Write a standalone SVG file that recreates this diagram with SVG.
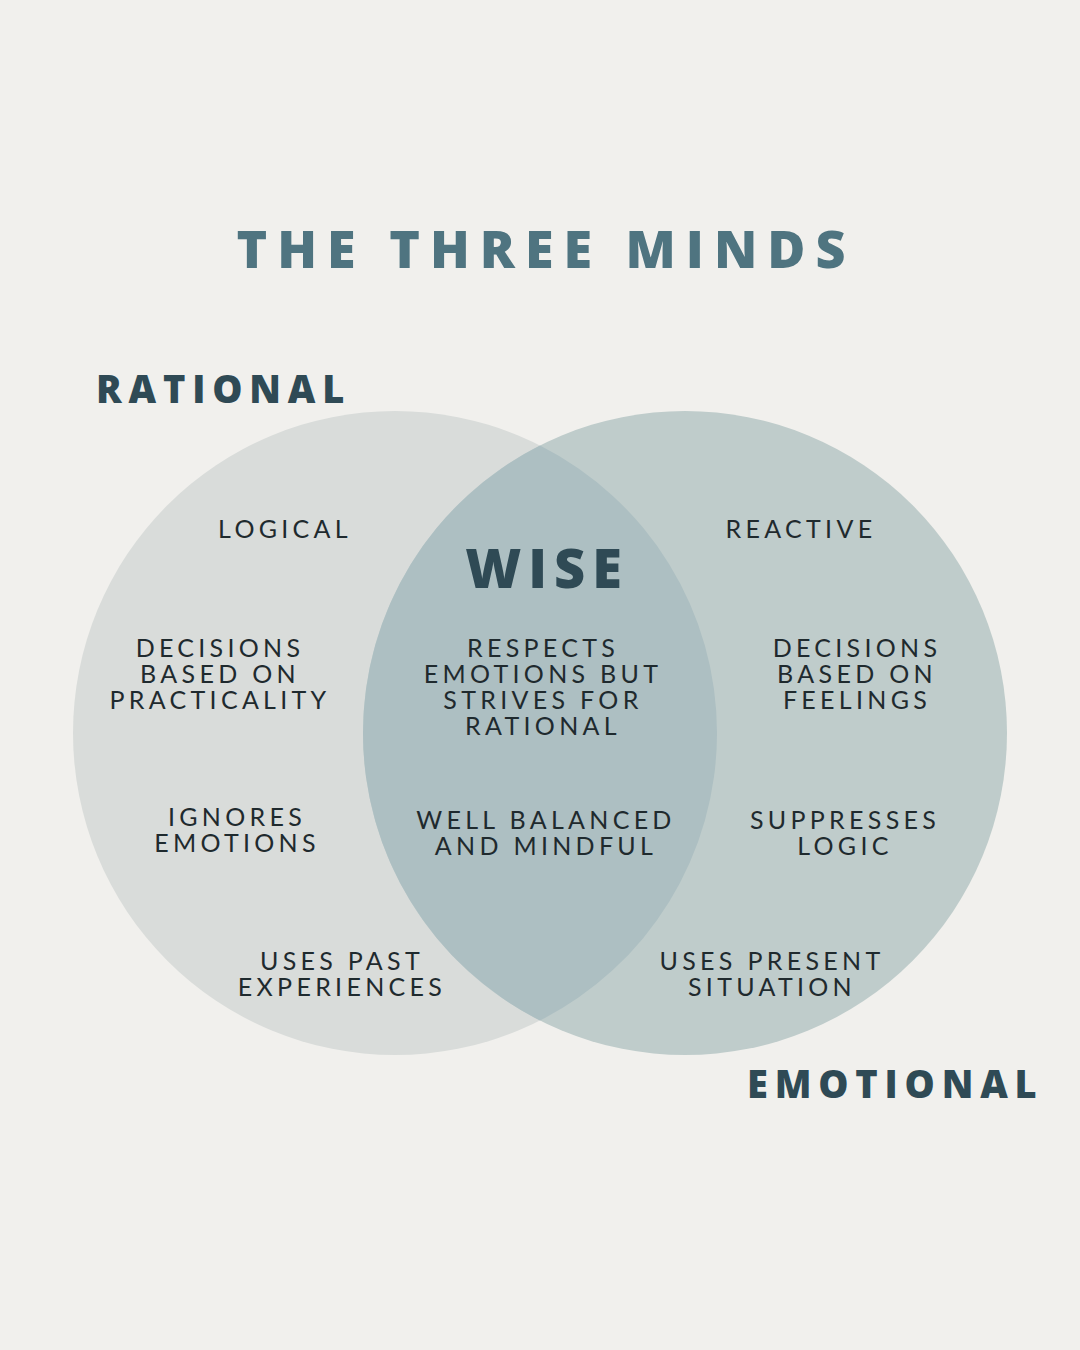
<svg xmlns="http://www.w3.org/2000/svg" width="1080" height="1350" viewBox="0 0 1080 1350">
<style>
.title{font-family:"Open Sans","Liberation Sans",sans-serif;font-weight:800;fill:#4f7480;font-size:52px;letter-spacing:10px;text-anchor:middle}
.head{font-family:"Open Sans","Liberation Sans",sans-serif;font-weight:800;fill:#2f4a55;font-size:38px;letter-spacing:6.8px}
.wise{font-family:"Open Sans","Liberation Sans",sans-serif;font-weight:800;fill:#2f4a55;font-size:54px;letter-spacing:7px;text-anchor:middle}
.body{font-family:"Lato","Open Sans","Liberation Sans",sans-serif;font-weight:400;fill:#1f2a2e;font-size:25px;letter-spacing:4.3px;text-anchor:middle}
</style>
<rect width="1080" height="1350" fill="#f1f0ed"/>
<g id="rational-circle"><circle cx="395" cy="733" r="322" fill="#d9dcda"/></g>
<g id="emotional-circle"><circle cx="685" cy="733" r="322" fill="#bfcccb"/></g>
<g id="wise-overlap"><path d="M540 445.5 A322 322 0 0 1 540 1020.5 A322 322 0 0 1 540 445.5 Z" fill="#adbfc2"/></g>
<g id="connectors"></g>
<text class="title" x="546" y="268">THE THREE MINDS</text>
<g id="rational-label"><text class="head" x="96" y="403">RATIONAL</text></g>
<g id="emotional-label"><text class="head" x="747" y="1098">EMOTIONAL</text></g>
<g id="wise-label"><text class="wise" x="547" y="588">WISE</text></g>
<g id="rational-text">
<text class="body" x="285" y="538">LOGICAL</text>
<text class="body" x="220" y="657">DECISIONS</text>
<text class="body" x="220" y="683">BASED ON</text>
<text class="body" x="220" y="709">PRACTICALITY</text>
<text class="body" x="237" y="826">IGNORES</text>
<text class="body" x="237" y="852">EMOTIONS</text>
<text class="body" x="342" y="970">USES PAST</text>
<text class="body" x="342" y="996">EXPERIENCES</text>
</g>
<g id="wise-text">
<text class="body" x="543" y="657">RESPECTS</text>
<text class="body" x="543" y="683">EMOTIONS BUT</text>
<text class="body" x="543" y="709">STRIVES FOR</text>
<text class="body" x="543" y="735">RATIONAL</text>
<text class="body" x="546" y="829">WELL BALANCED</text>
<text class="body" x="546" y="855">AND MINDFUL</text>
</g>
<g id="emotional-text">
<text class="body" x="801" y="538">REACTIVE</text>
<text class="body" x="857" y="657">DECISIONS</text>
<text class="body" x="857" y="683">BASED ON</text>
<text class="body" x="857" y="709">FEELINGS</text>
<text class="body" x="845" y="829">SUPPRESSES</text>
<text class="body" x="845" y="855">LOGIC</text>
<text class="body" x="772" y="970">USES PRESENT</text>
<text class="body" x="772" y="996">SITUATION</text>
</g>
</svg>
